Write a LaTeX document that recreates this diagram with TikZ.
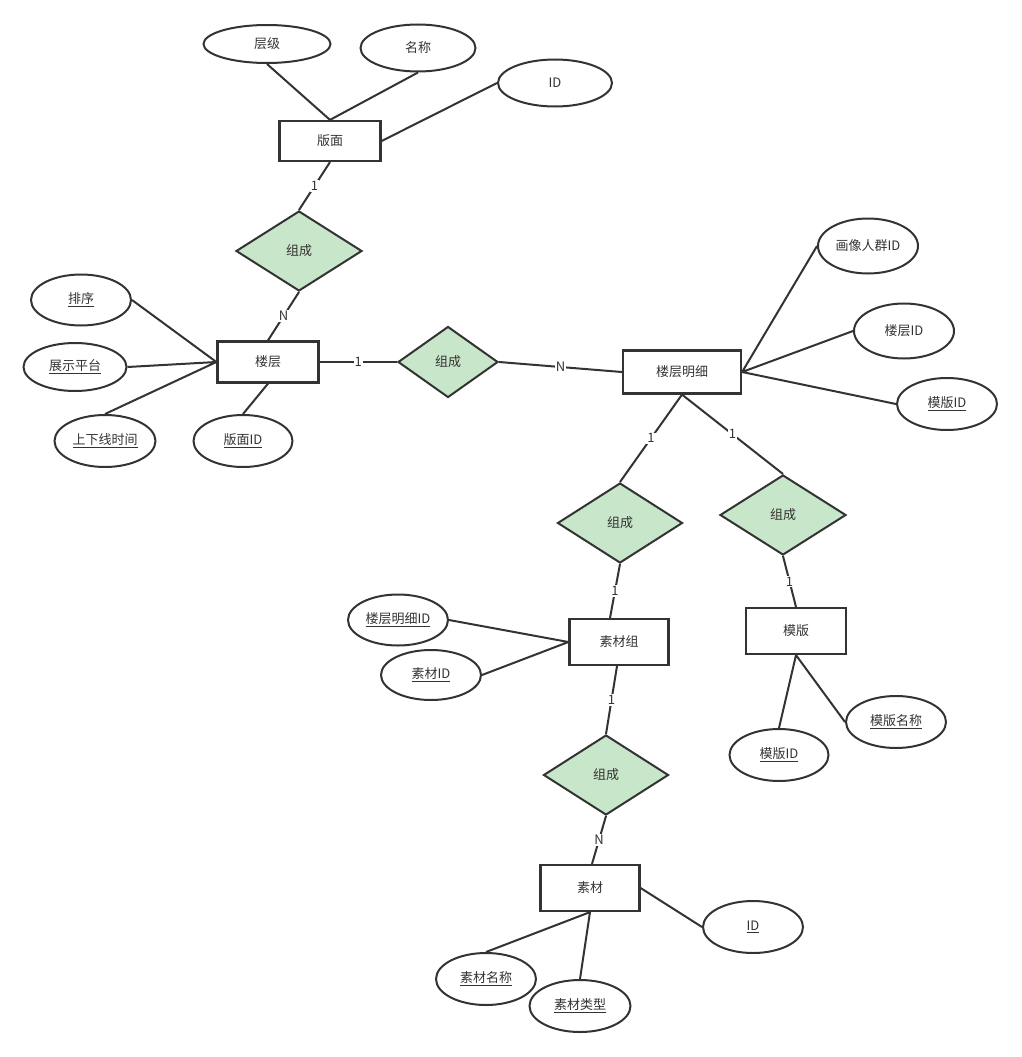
\documentclass[tikz,border=0pt]{standalone}
\usepackage{fontspec}
\setmainfont{Noto Sans CJK SC}
\definecolor{erline}{HTML}{333333}
\definecolor{relgreen}{HTML}{C8E6C9}
\usetikzlibrary{shapes.geometric}
\newcommand{\keyattr}[1]{\underline{#1}}

\begin{document}
\begin{tikzpicture}[x=1pt,y=-1pt,
        every node/.style={font=\fontsize{13}{15}\selectfont,text=erline},
        entity/.style={draw=erline,line width=2.2pt,rectangle,minimum width=100pt,minimum height=46pt,inner sep=0pt},
        attr/.style={draw=erline,line width=2pt,ellipse,minimum width=100pt,minimum height=52pt,inner sep=0pt},
        rel/.style={draw=erline,line width=2pt,diamond,fill=relgreen,minimum width=126pt,minimum height=80pt,inner sep=0pt},
        card/.style={fill=white,inner sep=1pt,font=\fontsize{13}{14}\selectfont},
        link/.style={draw=erline,line width=2pt}]
    \useasboundingbox (0,0) rectangle (1022,1057);

    \node[entity,minimum width=101pt,minimum height=40pt] (banmian) at (330,141) {版面};
    \node[attr,minimum width=127pt,minimum height=38pt] (cengji) at (267,44) {层级};
    \node[attr,minimum width=115pt,minimum height=47pt] (mingcheng) at (418,48) {名称};
    \node[attr,minimum width=114pt,minimum height=47pt] (bmid) at (555,83) {ID};

    \node[rel] (zc1) at (299,251) {组成};

    \node[entity,minimum width=101pt,minimum height=41pt] (louceng) at (268,362) {楼层};
    \node[attr,minimum height=51pt] (paixu) at (81,300) {\keyattr{排序}};
    \node[attr,minimum width=103pt,minimum height=48pt] (pingtai) at (75,367) {\keyattr{展示平台}};
    \node[attr,minimum width=101pt] (shijian) at (105,441) {\keyattr{上下线时间}};
    \node[attr,minimum width=99pt] (bmidfk) at (243,441) {\keyattr{版面ID}};

    \node[rel,minimum width=100pt,minimum height=71pt] (zc2) at (448,362) {组成};

    \node[entity,minimum width=118pt,minimum height=43pt] (mingxi) at (682,372) {楼层明细};
    \node[attr,minimum height=55pt] (renqun) at (868,246) {画像人群ID};
    \node[attr,minimum height=55pt] (lcid) at (904,331) {楼层ID};
    \node[attr] (mbidfk) at (947,404) {\keyattr{模版ID}};

    \node[rel,minimum width=125pt] (zc3) at (620,523) {组成};
    \node[rel] (zc4) at (783,515) {组成};

    \node[entity,minimum width=99pt] (sucaizu) at (619,642) {素材组};
    \node[attr,minimum height=51pt] (mxid) at (398,620) {\keyattr{楼层明细ID}};
    \node[attr,minimum height=50pt] (scidfk) at (431,675) {\keyattr{素材ID}};

    \node[entity] (moban) at (796,631) {模版};
    \node[attr] (mbmc) at (896,722) {\keyattr{模版名称}};
    \node[attr,minimum width=99pt] (mbid) at (779,755) {\keyattr{模版ID}};

    \node[rel,minimum width=125pt] (zc5) at (606,775) {组成};

    \node[entity,minimum width=99pt] (sucai) at (590,888) {素材};
    \node[attr] (scid) at (753,927) {\keyattr{ID}};
    \node[attr] (scmc) at (486,979) {\keyattr{素材名称}};
    \node[attr,minimum width=101pt] (sclx) at (580,1006) {\keyattr{素材类型}};

    \path[link] (cengji.south) -- (banmian.north)
                (mingcheng.south) -- (banmian.north)
                (bmid.west) -- (banmian.east);
    \path[link] (banmian.south) -- node[card]{1} (zc1.north);
    \path[link] (zc1.south) -- node[card]{N} (louceng.north);

    \path[link] (paixu.east) -- (louceng.west)
                (pingtai.east) -- (louceng.west)
                (shijian.north) -- (louceng.west)
                (bmidfk.north) -- (louceng.south);
    \path[link] (louceng.east) -- node[card]{1} (zc2.west);
    \path[link] (zc2.east) -- node[card]{N} (mingxi.west);

    \path[link] (mingxi.east) -- (renqun.west)
                (mingxi.east) -- (lcid.west)
                (mingxi.east) -- (mbidfk.west);
    \path[link] (mingxi.south) -- node[card]{1} (zc3.north);
    \path[link] (mingxi.south) -- node[card]{1} (zc4.north);
    \path[link] (zc3.south) -- node[card]{1} ([xshift=-9pt]sucaizu.north);
    \path[link] (zc4.south) -- node[card]{1} (moban.north);

    \path[link] (mxid.east) -- (sucaizu.west)
                (scidfk.east) -- (sucaizu.west);
    \path[link] (moban.south) -- (mbid.north)
                (moban.south) -- (mbmc.west);

    \path[link] ([xshift=-2pt]sucaizu.south) -- node[card]{1} (zc5.north);
    \path[link] (zc5.south) -- node[card]{N} ([xshift=2pt]sucai.north);

    \path[link] (sucai.east) -- (scid.west)
                (sucai.south) -- (scmc.north)
                (sucai.south) -- (sclx.north);
\end{tikzpicture}
\end{document}
